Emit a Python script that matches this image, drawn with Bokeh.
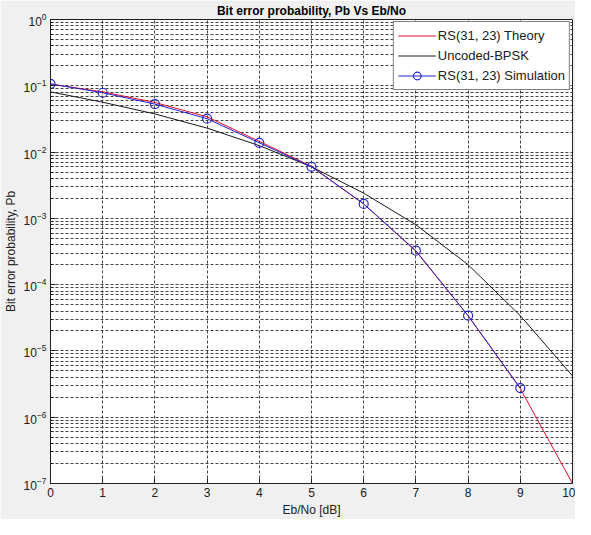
from bokeh.plotting import figure
from bokeh.models import FixedTicker, Legend, LegendItem, Range1d
from bokeh.embed import file_html
from bokeh.resources import INLINE

# ---- data ----
ebno_db = [0, 1, 2, 3, 4, 5, 6, 7, 8, 9, 10]
rs_theory = [0.106, 0.081, 0.056, 0.034, 0.0145, 0.0061, 0.00165, 3.2e-4, 3.4e-5, 2.7e-6, 1.0e-7]
uncoded_bpsk = [0.081, 0.0565, 0.0376, 0.0230, 0.0125, 0.0060, 0.0024, 8.0e-4, 2.0e-4, 3.4e-5, 4.2e-6]
sim_db = [0, 1, 2, 3, 4, 5, 6, 7, 8, 9]
rs_sim = [0.107, 0.0785, 0.0529, 0.0319, 0.0138, 0.0060, 0.00165, 3.25e-4, 3.4e-5, 2.75e-6]

x_ticks = [0, 1, 2, 3, 4, 5, 6, 7, 8, 9, 10]
y_major_ticks = [1e-7, 1e-6, 1e-5, 1e-4, 1e-3, 1e-2, 1e-1, 1e0]
y_minor_ticks = [m * d for d in y_major_ticks[:-1] for m in range(2, 10)]

FONT = "Liberation Sans"
RED = "#e0102e"
BLUE = "#2424d0"
BLACK = "#1a1a1a"

p = figure(width=575, height=519, y_axis_type="log",
           x_range=Range1d(0, 10), y_range=Range1d(1e-7, 1),
           output_backend="svg", toolbar_location=None,
           title="Bit error probability, Pb Vs Eb/No",
           min_border_left=48, min_border_right=3, min_border_top=18, min_border_bottom=26)

p.border_fill_color = "#f0f0f0"
p.background_fill_color = "white"
p.outline_line_color = "#202020"
p.outline_line_width = 1

p.title.align = "center"
p.title.text_font = FONT
p.title.text_font_size = "12px"
p.title.text_font_style = "bold"
p.title.text_color = "black"
p.title.standoff = 3

# axes
p.xaxis.ticker = FixedTicker(ticks=x_ticks)
p.yaxis.ticker = FixedTicker(ticks=y_major_ticks, minor_ticks=y_minor_ticks)
for ax in (p.xaxis[0], p.yaxis[0]):
    ax.axis_line_color = "#202020"
    ax.major_tick_line_color = "#202020"
    ax.minor_tick_line_color = "#202020"
    ax.major_tick_in = 5
    ax.major_tick_out = 0
    ax.minor_tick_in = 3
    ax.minor_tick_out = 0
    ax.major_label_text_font = FONT
    ax.major_label_text_font_size = "12px"
    ax.major_label_text_color = "#202020"
    ax.axis_label_text_font = FONT
    ax.axis_label_text_font_size = "12px"
    ax.axis_label_text_font_style = "normal"
    ax.axis_label_text_color = "#202020"
    ax.major_label_standoff = 4
    ax.axis_label_standoff = 3
p.xaxis.minor_tick_line_color = None
p.xaxis.axis_label = "Eb/No [dB]"
p.yaxis.axis_label = "Bit error probability, Pb"

# grids (MATLAB-style dotted)
p.xgrid.grid_line_color = "#303030"
p.xgrid.grid_line_dash = "3 2"
p.xgrid.grid_line_alpha = 0.9
p.ygrid.grid_line_color = "#303030"
p.ygrid.grid_line_dash = "3 2"
p.ygrid.grid_line_alpha = 0.9
p.ygrid.minor_grid_line_color = "#303030"
p.ygrid.minor_grid_line_dash = "3 2"
p.ygrid.minor_grid_line_alpha = 0.9

# series
r_red = p.line(ebno_db, rs_theory, line_color=RED, line_width=1)
r_blk = p.line(ebno_db, uncoded_bpsk, line_color=BLACK, line_width=1)
r_blue = p.line(sim_db, rs_sim, line_color=BLUE, line_width=1)
r_circ = p.scatter(sim_db, rs_sim, marker="circle", size=9, fill_color=None,
                   line_color=BLUE, line_width=1.2)

legend = Legend(items=[
    LegendItem(label="RS(31, 23) Theory", renderers=[r_red]),
    LegendItem(label="Uncoded-BPSK", renderers=[r_blk]),
    LegendItem(label="RS(31, 23) Simulation", renderers=[r_blue, r_circ]),
], location="top_right")
legend.margin = 2
legend.border_line_color = "black"
legend.border_line_width = 1
legend.background_fill_color = "white"
legend.background_fill_alpha = 1
legend.label_text_font = FONT
legend.label_text_font_size = "13px"
legend.label_text_color = "#202020"
legend.glyph_width = 38
legend.glyph_height = 19
legend.label_height = 19
legend.label_standoff = 2
legend.spacing = 1
legend.padding = 4
p.add_layout(legend)

open("out.html", "w").write(file_html(p, INLINE))
